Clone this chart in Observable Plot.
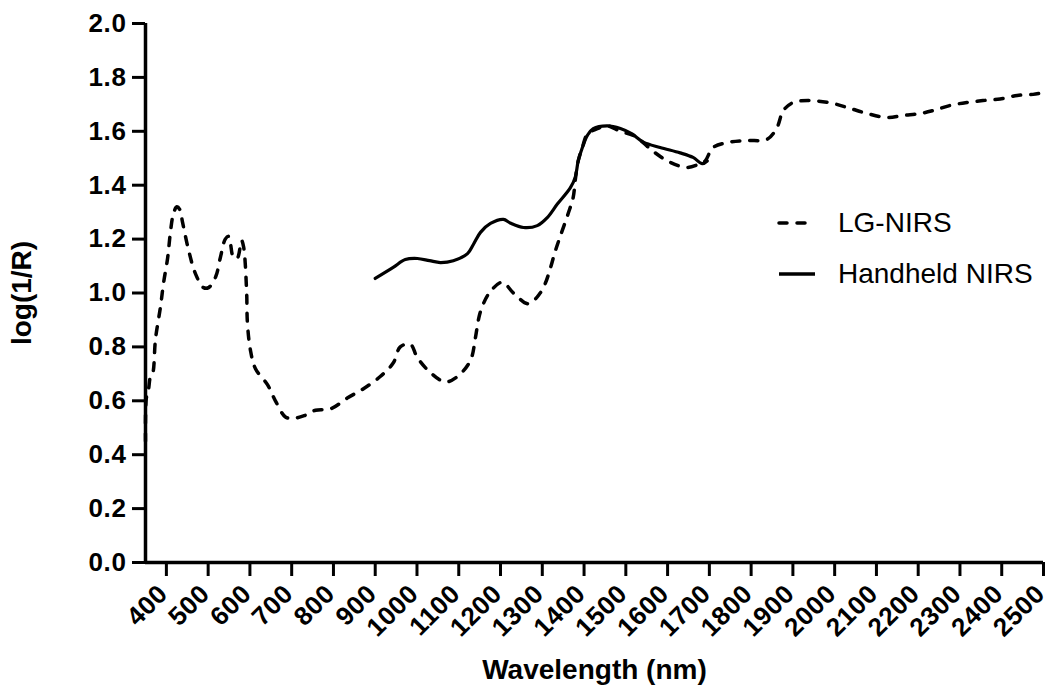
<!DOCTYPE html>
<html>
<head>
<meta charset="utf-8">
<script src="https://cdn.jsdelivr.net/npm/d3@7"></script>
<script src="https://cdn.jsdelivr.net/npm/@observablehq/plot@0.6"></script>
<style>
  html, body { margin: 0; padding: 0; background: #fff; }
  #wrap { position: relative; width: 1051px; height: 699px; font-family: "Liberation Sans", Arial, sans-serif; }
  .leg { position: absolute; left: 776px; display: flex; align-items: center; font-size: 28px; color: #000; }
  .leg svg { margin-right: 20px; }
  g[aria-label="y-axis tick label"] text { letter-spacing: 0.6px; }
  g[aria-label="x-axis tick label"] text { letter-spacing: 0.6px; }
</style>
</head>
<body>
<div id="wrap"></div>
<script>
// LG-NIRS spectrum: wavelength (nm)
const lgWavelength = [350,352,357,362,367,374,386,393,403,410,417,425,432,439,453,470,489,501,518,529,541,549,561,570,580,585,592,594,601,613,642,661,685,704,730,757,793,833,872,912,943,960,984,1001,1032,1068,1097,1128,1140,1147,1154,1173,1204,1231,1267,1295,1307,1319,1331,1343,1362,1374,1379,1386,1396,1408,1432,1456,1487,1518,1540,1566,1606,1647,1678,1690,1709,1750,1790,1838,1862,1877,1901,1942,1997,2037,2078,2126,2164,2205,2236,2277,2317,2355,2396,2437,2475,2500];
const lgValue = [0.45,0.61,0.64,0.69,0.70,0.83,0.95,1.035,1.13,1.23,1.295,1.32,1.31,1.26,1.16,1.07,1.02,1.02,1.06,1.13,1.20,1.21,1.13,1.13,1.195,1.17,1.01,0.89,0.79,0.72,0.66,0.60,0.54,0.535,0.545,0.565,0.57,0.61,0.645,0.69,0.74,0.80,0.81,0.76,0.705,0.67,0.69,0.75,0.835,0.90,0.94,1.00,1.04,1.00,0.96,1.00,1.035,1.09,1.155,1.21,1.295,1.355,1.42,1.49,1.54,1.59,1.61,1.62,1.60,1.585,1.56,1.525,1.485,1.466,1.48,1.49,1.54,1.56,1.566,1.57,1.614,1.677,1.707,1.714,1.703,1.685,1.666,1.651,1.659,1.666,1.677,1.696,1.707,1.714,1.72,1.733,1.737,1.744];
// Handheld NIRS spectrum
const hhWavelength = [900,943,972,1001,1030,1056,1087,1121,1135,1152,1176,1207,1223,1255,1288,1312,1336,1367,1379,1386,1396,1408,1422,1456,1487,1515,1542,1582,1630,1661,1683,1695];
const hhValue = [1.054,1.095,1.124,1.128,1.12,1.113,1.12,1.146,1.18,1.225,1.258,1.273,1.26,1.243,1.25,1.28,1.33,1.39,1.43,1.49,1.54,1.585,1.61,1.62,1.61,1.59,1.56,1.54,1.52,1.503,1.48,1.49];

const xTicks = d3.range(400, 2501, 100);
const yTicks = d3.range(0, 11).map(i => i * 0.2);
const seriesNames = ["LG-NIRS", "Handheld NIRS"];
const xTitle = "Wavelength (nm)";
const yTitle = "log(1/R)";

const lg = lgWavelength.map((w, i) => ({w, v: lgValue[i]}));
const hh = hhWavelength.map((w, i) => ({w, v: hhValue[i]}));

const font = {fontFamily: "Liberation Sans, Arial, sans-serif", fontWeight: "bold"};

const chart = Plot.plot({
  width: 1051,
  height: 699,
  marginLeft: 145,
  marginRight: 8,
  marginTop: 23,
  marginBottom: 137,
  style: {fontFamily: "Liberation Sans, Arial, sans-serif", background: "#fff", color: "#000"},
  x: {domain: [350, 2500]},
  y: {domain: [0, 2]},
  marks: [
    Plot.axisY({ticks: yTicks, tickFormat: d3.format(".1f"), tickSize: 13, tickPadding: 6, strokeWidth: 3, fontSize: 26, label: null, ...font}),
    // x tick marks
    Plot.axisX({ticks: xTicks, tickFormat: () => "", tickSize: 14, strokeWidth: 3, label: null}),
    // x tick labels, rotated
    Plot.axisX({ticks: xTicks, tickFormat: d => String(d), tickSize: 0, tickPadding: 27, tickRotate: -45, fontSize: 26, dx: -3, label: null, ...font}),
    Plot.ruleX([350], {y1: 0, y2: 2, strokeWidth: 3.5}),
    Plot.ruleY([0], {strokeWidth: 3.5}),
    Plot.line(lg, {x: "w", y: "v", curve: "catmull-rom", stroke: "#000", strokeWidth: 3.5, strokeDasharray: "8,10", strokeLinecap: "round"}),
    Plot.line(hh, {x: "w", y: "v", curve: "catmull-rom", stroke: "#000", strokeWidth: 3.2}),
    Plot.text([yTitle], {frameAnchor: "left", textAnchor: "middle", dx: -123, rotate: -90, fontSize: 28, ...font}),
    Plot.text([xTitle], {frameAnchor: "bottom", textAnchor: "middle", dy: 116, fontSize: 28, ...font})
  ]
});

const wrap = document.getElementById("wrap");
wrap.appendChild(chart);

const legendItems = [
  {name: seriesNames[0], dash: "8,10", top: 205},
  {name: seriesNames[1], dash: null, top: 256}
];
for (const item of legendItems) {
  const div = document.createElement("div");
  div.className = "leg";
  div.style.top = item.top + "px";
  div.innerHTML = `<svg width="42" height="36"><line x1="3" x2="39" y1="18" y2="18" stroke="#000" stroke-width="3.5" ${item.dash ? `stroke-dasharray="${item.dash}" stroke-linecap="round"` : ""}/></svg><span>${item.name}</span>`;
  wrap.appendChild(div);
}
</script>
</body>
</html>
